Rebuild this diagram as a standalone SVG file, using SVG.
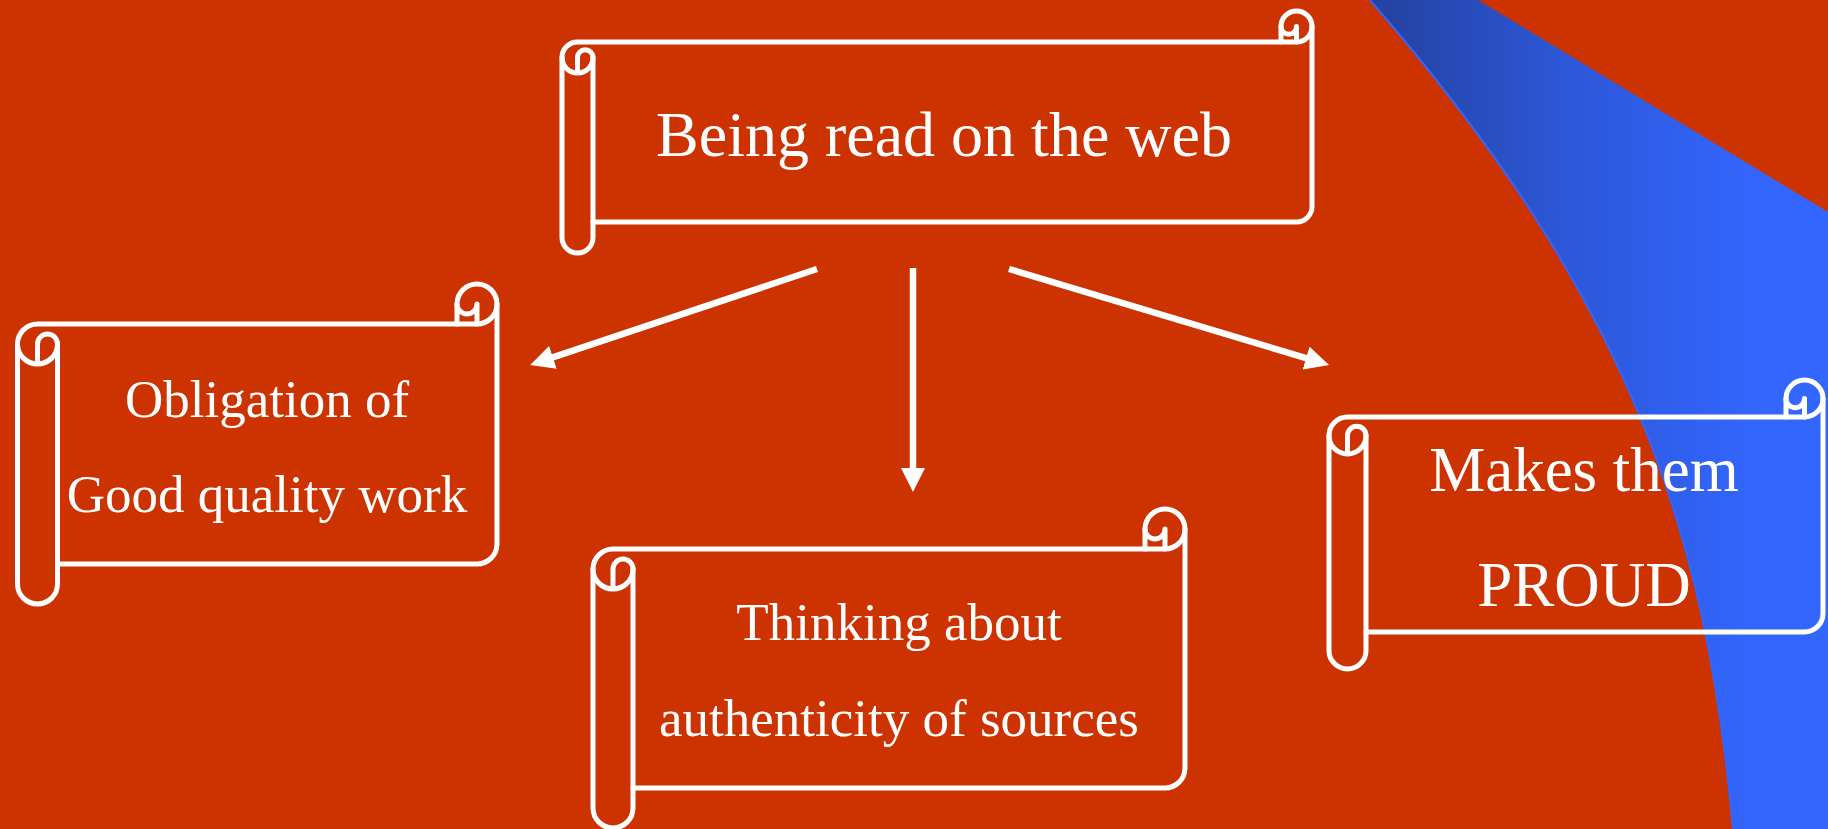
<svg xmlns="http://www.w3.org/2000/svg" width="1828" height="829" viewBox="0 0 1828 829">
  <defs>
    <linearGradient id="blueGrad" gradientUnits="userSpaceOnUse" x1="1370" y1="0" x2="1760" y2="0">
      <stop offset="0" stop-color="#23419E"/>
      <stop offset="0.5" stop-color="#2D57D8"/>
      <stop offset="1" stop-color="#3366FF"/>
    </linearGradient>
    <marker id="arrowHead" markerUnits="userSpaceOnUse" markerWidth="24" markerHeight="24" refX="1" refY="12" orient="auto" viewBox="0 0 24 24">
      <path d="M0,0 L24,12 L0,24 Z" fill="#FFFFFF"/>
    </marker>
    <style>
      .scroll path { fill: none; stroke: #FFFFFF; stroke-width: 5; stroke-linejoin: round; stroke-linecap: round; }
      .label { font-family: "Liberation Serif", "Times New Roman", serif; fill: #FFFFFF; text-anchor: middle; }
      .connector { stroke: #FFFFFF; stroke-width: 6.5; fill: none; marker-end: url(#arrowHead); }
    </style>
  </defs>

  <g id="background">
    <rect x="0" y="0" width="1828" height="829" fill="#CC3300"/>
    <path d="M1370,0 C1632,302 1706,530 1733,829 L1828,829 L1828,212 L1478,0 Z" fill="url(#blueGrad)"/>
    <path d="M1370,0 C1632,302 1706,530 1733,829" fill="none" stroke="#3366FF" stroke-width="2"/>
  </g>

  <g id="connectors">
    <line class="connector" x1="817" y1="269" x2="552" y2="357.7"/>
    <line class="connector" x1="913" y1="268" x2="913" y2="469"/>
    <line class="connector" x1="1009" y1="269" x2="1307" y2="358.4"/>
  </g>

  <g id="node-top" class="scroll">
    <path d="M562,57.5 A15.5,15.5 0 0 1 577.5,42 L1281,42 L1281,26.5 A15.5,15.5 0 0 1 1312,26.5 L1312,206.5 A15.5,15.5 0 0 1 1296.5,222 L593,222 L593,237.5 A15.5,15.5 0 0 1 562,237.5 Z"/>
    <path d="M1281,42 L1296.5,42 A15.5,15.5 0 0 0 1312,26.5"/>
    <path d="M1296.5,42 L1296.5,26.5 A7.75,7.75 0 0 1 1281,26.5"/>
    <path d="M577.5,73 L577.5,57.5 A7.75,7.75 0 0 1 593,57.5 A15.5,15.5 0 0 1 562,57.5"/>
    <path d="M593,57.5 L593,222"/>
    <text class="label" x="944" y="156" font-size="64">Being read on the web</text>
  </g>

  <g id="node-left" class="scroll">
    <path d="M17.5,344 A20,20 0 0 1 37.5,324 L457,324 L457,304 A20,20 0 0 1 497,304 L497,544 A20,20 0 0 1 477,564 L57.5,564 L57.5,584 A20,20 0 0 1 17.5,584 Z"/>
    <path d="M457,324 L477,324 A20,20 0 0 0 497,304"/>
    <path d="M477,324 L477,304 A10,10 0 0 1 457,304"/>
    <path d="M37.5,364 L37.5,344 A10,10 0 0 1 57.5,344 A20,20 0 0 1 17.5,344"/>
    <path d="M57.5,344 L57.5,564"/>
    <text class="label" x="267" y="417" font-size="53">Obligation of</text>
    <text class="label" x="267" y="512" font-size="53">Good quality work</text>
  </g>

  <g id="node-middle" class="scroll">
    <path d="M593,569 A20,20 0 0 1 613,549 L1145,549 L1145,529 A20,20 0 0 1 1185,529 L1185,768 A20,20 0 0 1 1165,788 L633,788 L633,808 A20,20 0 0 1 593,808 Z"/>
    <path d="M1145,549 L1165,549 A20,20 0 0 0 1185,529"/>
    <path d="M1165,549 L1165,529 A10,10 0 0 1 1145,529"/>
    <path d="M613,589 L613,569 A10,10 0 0 1 633,569 A20,20 0 0 1 593,569"/>
    <path d="M633,569 L633,788"/>
    <text class="label" x="899" y="640" font-size="53">Thinking about</text>
    <text class="label" x="899" y="736" font-size="53">authenticity of sources</text>
  </g>

  <g id="node-right" class="scroll">
    <path d="M1329,435.5 A18.5,18.5 0 0 1 1347.5,417 L1786,417 L1786,398.5 A18.5,18.5 0 0 1 1823,398.5 L1823,613.5 A18.5,18.5 0 0 1 1804.5,632 L1366,632 L1366,650.5 A18.5,18.5 0 0 1 1329,650.5 Z"/>
    <path d="M1786,417 L1804.5,417 A18.5,18.5 0 0 0 1823,398.5"/>
    <path d="M1804.5,417 L1804.5,398.5 A9.25,9.25 0 0 1 1786,398.5"/>
    <path d="M1347.5,454 L1347.5,435.5 A9.25,9.25 0 0 1 1366,435.5 A18.5,18.5 0 0 1 1329,435.5"/>
    <path d="M1366,435.5 L1366,632"/>
    <text class="label" x="1584" y="491" font-size="63">Makes them</text>
    <text class="label" x="1584" y="606" font-size="63">PROUD</text>
  </g>
</svg>
